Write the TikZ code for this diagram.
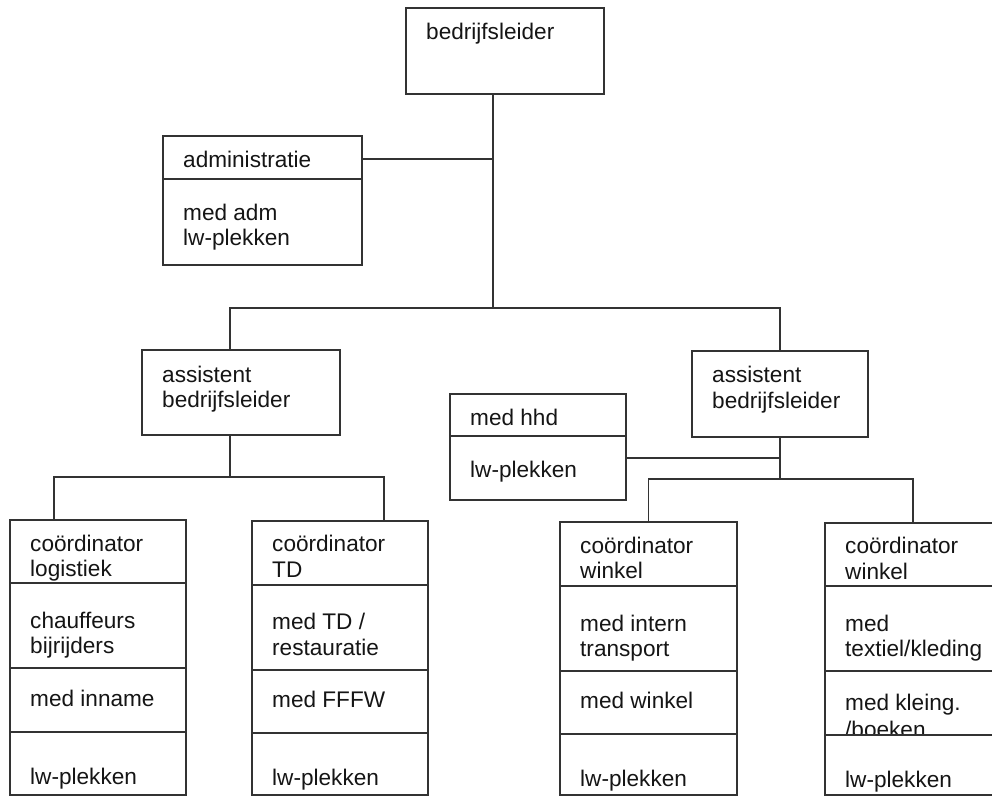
\documentclass[tikz,border=0pt]{standalone}
\usepackage{fontspec}
\setmainfont{Liberation Sans}
\definecolor{linegray}{HTML}{333333}
\definecolor{inkgray}{HTML}{151515}
\begin{document}
\begin{tikzpicture}[x=1pt,y=-1pt,
  box/.style={draw=linegray, line width=1.8pt, fill=white, rectangle,
              inner sep=0pt, outer sep=0pt, anchor=north west},
  lbl/.style={anchor=base west, inner sep=0pt, text=inkgray,
              font=\fontsize{22.6}{26}\selectfont},
  wire/.style={draw=linegray, line width=1.8pt}]
\useasboundingbox (0,0) rectangle (992,796);
\clip (0,0) rectangle (992,796);

% boxes
\node[box, minimum width=198pt, minimum height=86pt]  (boss)  at (406,8)   {};
\node[box, minimum width=199pt, minimum height=129pt] (admin) at (163,136) {};
\node[box, minimum width=198pt, minimum height=85pt]  (asstL) at (142,350) {};
\node[box, minimum width=176pt, minimum height=86pt]  (asstR) at (692,351) {};
\node[box, minimum width=176pt, minimum height=106pt] (hhd)   at (450,394) {};
\node[box, minimum width=176pt, minimum height=275pt] (c1)    at (10,520)  {};
\node[box, minimum width=176pt, minimum height=274pt] (c2)    at (252,521) {};
\node[box, minimum width=177pt, minimum height=273pt] (c3)    at (560,522) {};
\node[box, minimum width=176pt, minimum height=272pt] (c4)    at (825,523) {};

% labels
\node[lbl] (tBoss) at (426,39)  {bedrijfsleider};
\node[lbl] (tAdm1) at (183,167) {administratie};
\node[lbl] (tAdm2) at (183,220) {med adm};
\node[lbl] (tAdm3) at (183,245) {lw-plekken};
\node[lbl] (tAL1)  at (162,382) {assistent};
\node[lbl] (tAL2)  at (162,407) {bedrijfsleider};
\node[lbl] (tAR1)  at (712,382) {assistent};
\node[lbl] (tAR2)  at (712,408) {bedrijfsleider};
\node[lbl] (tH1)   at (470,425) {med hhd};
\node[lbl] (tH2)   at (470,477) {lw-plekken};

\node[lbl] (tA1) at (30,551) {coördinator};
\node[lbl] (tA2) at (30,576) {logistiek};
\node[lbl] (tA3) at (30,628) {chauffeurs};
\node[lbl] (tA4) at (30,653) {bijrijders};
\node[lbl] (tA5) at (30,706) {med inname};
\node[lbl] (tA6) at (30,784) {lw-plekken};

\node[lbl] (tB1) at (272,551) {coördinator};
\node[lbl] (tB2) at (272,577) {TD};
\node[lbl] (tB3) at (272,629) {med TD /};
\node[lbl] (tB4) at (272,655) {restauratie};
\node[lbl] (tB5) at (272,707) {med FFFW};
\node[lbl] (tB6) at (272,785) {lw-plekken};

\node[lbl] (tC1) at (580,553) {coördinator};
\node[lbl] (tC2) at (580,578) {winkel};
\node[lbl] (tC3) at (580,631) {med intern};
\node[lbl] (tC4) at (580,656) {transport};
\node[lbl] (tC5) at (580,708) {med winkel};
\node[lbl] (tC6) at (580,786) {lw-plekken};

\node[lbl] (tD1) at (845,553) {coördinator};
\node[lbl] (tD2) at (845,579) {winkel};
\node[lbl] (tD3) at (845,631) {med};
\node[lbl] (tD4) at (845,656) {textiel/kleding};
\node[lbl] (tD5) at (845,710) {med kleing.};
\node[lbl] (tD6) at (845,737) {/boeken};
% the lower cell covers the foot of the line above it
\fill[white] (826,735) rectangle (1000,794);
\node[lbl] (tD7) at (845,787) {lw-plekken};

% cell dividers
\draw[wire] (admin.west |- 0,179) -- (admin.east |- 0,179);
\draw[wire] (hhd.west |- 0,436) -- (hhd.east |- 0,436);
\foreach \yy in {583,668,732} \draw[wire] (c1.west |- 0,\yy) -- (c1.east |- 0,\yy);
\foreach \yy in {585,670,733} \draw[wire] (c2.west |- 0,\yy) -- (c2.east |- 0,\yy);
\foreach \yy in {586,671,734} \draw[wire] (c3.west |- 0,\yy) -- (c3.east |- 0,\yy);
\foreach \yy in {586,671,735} \draw[wire] (c4.west |- 0,\yy) -- (c4.east |- 0,\yy);

% connectors
\coordinate (busC) at (493,308);
\coordinate (busL) at (230,308);
\coordinate (admJ) at (493,159);
\coordinate (subL) at (230,477);
\coordinate (j1)   at (54,477);
\coordinate (j2)   at (384,477);
\coordinate (subR) at (780,479);
\coordinate (hhdJ) at (780,458);

\draw[wire] (busC |- boss.south) -- (busC);
\draw[wire] (admJ -| admin.east) -- (admJ);
\draw[wire] (busL |- asstL.north) -- (busL) -- (busL -| asstR.north) -- (asstR.north);
\draw[wire] (subL |- asstL.south) -- (subL);
\draw[wire] (j1 |- c1.north) -- (j1) -- (j2) -- (j2 |- c2.north);
\draw[wire] (asstR.south) -- (subR);
\draw[wire] (c3.north) -- (c3.north |- subR) -- (c4.north |- subR) -- (c4.north);
\draw[wire] (hhdJ -| hhd.east) -- (hhdJ);
\end{tikzpicture}
\end{document}
